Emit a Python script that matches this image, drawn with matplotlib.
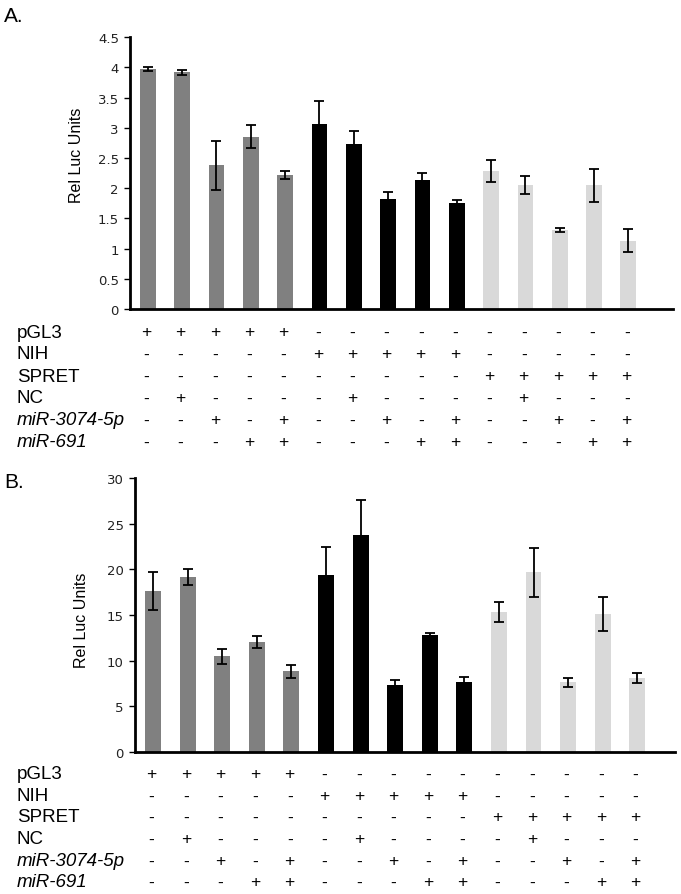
import matplotlib
matplotlib.use("Agg")
import matplotlib.pyplot as plt
from matplotlib.transforms import blended_transform_factory

# ---- data ----
colors_group = ["#808080"] * 5 + ["#000000"] * 5 + ["#d9d9d9"] * 5

valsA = [3.98, 3.92, 2.38, 2.85, 2.22, 3.07, 2.74, 1.82, 2.14, 1.75, 2.28, 2.05, 1.31, 2.05, 1.13]
errA = [0.03, 0.04, 0.41, 0.19, 0.07, 0.38, 0.21, 0.11, 0.11, 0.05, 0.18, 0.15, 0.03, 0.27, 0.19]
ticksA = [0, 0.5, 1, 1.5, 2, 2.5, 3, 3.5, 4, 4.5]
ticklabelsA = ["0", "0.5", "1", "1.5", "2", "2.5", "3", "3.5", "4", "4.5"]

valsB = [17.67, 19.2, 10.47, 12.0, 8.82, 19.4, 23.8, 7.36, 12.8, 7.6, 15.37, 19.7, 7.6, 15.1, 8.09]
errB = [2.1, 0.9, 0.8, 0.67, 0.7, 3.1, 3.8, 0.5, 0.2, 0.65, 1.1, 2.7, 0.45, 1.85, 0.55]
ticksB = [0, 5, 10, 15, 20, 25, 30]
ticklabelsB = ["0", "5", "10", "15", "20", "25", "30"]

row_labels = ["pGL3", "NIH", "SPRET", "NC", "miR-3074-5p", "miR-691"]
row_italic = [False, False, False, False, True, True]
row_pGL3 = list("+++++----------")
row_NIH = list("-----+++++-----")
row_SPRET = list("----------+++++")
row_NC = list("-+----+----+---")
row_miR3074 = list("--+-+--+-+--+-+")
row_miR691 = list("---++---++---++")
rows = [row_pGL3, row_NIH, row_SPRET, row_NC, row_miR3074, row_miR691]

W, H = 681, 895
fig = plt.figure(figsize=(W / 100, H / 100), dpi=100)

def fx(px):
    return px / W

def fy(py):
    return 1 - py / H

def panel(left, right, top, bottom, vals, errs, ticks, ticklabels, ymax, xmax,
          label, label_y, ylabel_x, ylabel_y, row_ys):
    ax = fig.add_axes([fx(left), fy(bottom), fx(right) - fx(left), fy(top) - fy(bottom)])
    x = list(range(len(vals)))
    ax.bar(x, vals, width=0.46, color=colors_group, edgecolor="none", zorder=2)
    ax.errorbar(x, vals, yerr=errs, fmt="none", ecolor="black", elinewidth=1.3,
                capsize=3.3, capthick=1.3, zorder=3)
    ax.set_xlim(-0.52, xmax)
    ax.set_ylim(0, ymax)
    ax.set_yticks(ticks)
    ax.set_yticklabels(ticklabels, fontsize=9.5, family="DejaVu Sans", color="#222222")
    ax.set_xticks([])
    for s in ["top", "right"]:
        ax.spines[s].set_visible(False)
    ax.spines["left"].set_linewidth(2)
    ax.spines["bottom"].set_linewidth(2)
    ax.tick_params(axis="y", direction="out", length=4, width=1, pad=4)
    ax.set_ylabel("Rel Luc Units", fontsize=11.5, family="Liberation Sans")
    ax.yaxis.set_label_coords(fx(ylabel_x), fy(ylabel_y), transform=fig.transFigure)
    fig.text(fx(4), fy(label_y), label, fontsize=15, family="Liberation Sans",
             ha="left", va="center")
    trans = blended_transform_factory(ax.transData, fig.transFigure)
    for lab, it, row, ry in zip(row_labels, row_italic, rows, row_ys):
        fig.text(fx(17), fy(ry), lab, fontsize=13.5, family="Liberation Sans",
                 style="italic" if it else "normal", ha="left", va="center")
        for xi, sym in zip(x, row):
            ax.text(xi - 0.05, fy(ry), sym, transform=trans, fontsize=12.5,
                    family="Liberation Sans", ha="center", va="center",
                    fontweight="normal")
    return ax

rowsA_y = [333, 355, 377, 399, 421, 443]
rowsB_y = [775, 797, 818, 840, 862, 883]

panel(130, 673, 38.3, 310, valsA, errA, ticksA, ticklabelsA, 4.5, 15.3,
      "A.", 16, 84, 155, rowsA_y)
panel(135, 675, 479.3, 752.7, valsB, errB, ticksB, ticklabelsB, 30, 15.09,
      "B.", 483, 89, 620, rowsB_y)

fig.savefig("out.png", dpi=100)
